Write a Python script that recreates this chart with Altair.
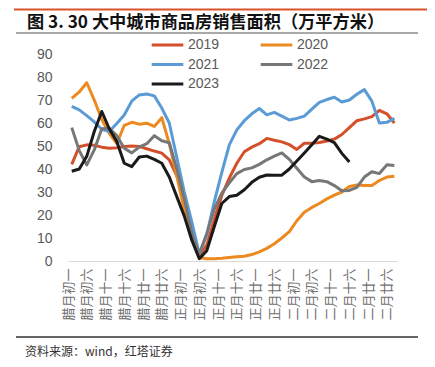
import altair as alt
import pandas as pd

# ---- data ----
days = list(range(1, 89, 2))  # day index, every 2 days
series_names = ["2019", "2020", "2021", "2022", "2023"]

v2019 = [42, 49.7, 50.5, 50.3, 49.5, 49, 49.2, 49.8, 50, 49.8,
         48.8, 47.8, 46.9, 44, 37, 28, 15, 2, 7, 18,
         28.5, 36, 42.5, 47.5, 49.5, 51, 53.3, 52.5, 51.8, 50.6,
         48.5, 51.2, 51.2, 51.5, 52.2, 53, 55, 58, 61, 61.8,
         62.8, 65.5, 64, 60]
v2020 = [70.7, 73.5, 77.5, 70, 61.5, 55.5, 51, 59, 60.3, 59.5,
         59.9, 58.5, 62.3, 51, 37, 22, 10, 1.5, 1, 1,
         1.2, 1.5, 1.8, 2.1, 2.8, 4, 5.5, 7.5, 10, 12.8,
         17.5, 21.2, 23.3, 25, 27, 28.6, 30, 32.4, 33, 32.8,
         32.8, 35, 36.5, 36.8]
v2021 = [67.2, 65.7, 63.2, 60.5, 57.3, 56.3, 59.8, 63.5, 69.5, 72.2,
         72.6, 71.8, 66.5, 60, 45, 30, 17, 3, 11.5, 25.8,
         38.5, 50.5, 57, 61, 64, 66.3, 63.5, 64.6, 63, 61.3,
         62, 63, 66, 69, 70.2, 71.2, 69.1, 70, 72.5, 74.5,
         69.5, 60, 60.3, 62]
v2022 = [58, 48, 41.8, 48.3, 57.5, 57.7, 54.5, 49, 47, 49.5,
         51, 54.5, 52.3, 51.4, 40, 27, 12, 3, 12, 22.5,
         29.5, 34, 38, 39.8, 40.5, 42, 44, 45.6, 47, 44.2,
         40.3, 36.5, 34.5, 35, 34.5, 32.8, 30.5, 30.7, 32, 36.5,
         38.8, 38, 41.8, 41.5]
v2023 = [39, 40, 45.5, 56.3, 65, 57.5, 52, 42.5, 41, 45.2,
         45.6, 44.2, 42.5, 36.5, 28, 19.5, 9, 1, 4.5, 15,
         25, 28, 28.6, 31, 34.2, 36.4, 37.4, 37.3, 37.3, 40,
         43.5, 47, 50.5, 54.2, 53, 51.5, 46.8, 43]

x_labels = ["腊月初一", "腊月初六", "腊月十一", "腊月十六", "腊月廿一", "腊月廿六",
            "正月初一", "正月初六", "正月十一", "正月十六", "正月廿一", "正月廿六",
            "二月初一", "二月初六", "二月十一", "二月十六", "二月廿一", "二月廿六"]
y_ticks = [0, 10, 20, 30, 40, 50, 60, 70, 80, 90]

title_text = "图 3. 30 大中城市商品房销售面积（万平方米）"
source_text = "资料来源：wind，红塔证券"
colors = ["#D4502A", "#EC8A1F", "#5B9BD5", "#777777", "#1A1A1A"]

rows = []
for name, vals in zip(series_names, [v2019, v2020, v2021, v2022, v2023]):
    for d, v in zip(days, vals):
        rows.append({"day": d, "value": v, "year": name})
df = pd.DataFrame(rows)

label_js = "[" + ",".join("'" + s + "'" for s in x_labels) + "]"

lines = alt.Chart(df).mark_line(strokeWidth=3, strokeJoin="round").encode(
    x=alt.X("day:Q",
            scale=alt.Scale(domain=[0, 87.7], nice=False, zero=False),
            axis=alt.Axis(values=[i * 5 for i in range(len(x_labels))],
                          labelExpr=label_js + "[round(datum.value/5)]",
                          labelAngle=-90, title=None, grid=False, ticks=False,
                          tickSize=0, labelPadding=7, labelFlush=False,
                          labelOverlap=False, domainColor="#D9D9D9",
                          labelFont="Noto Sans CJK SC", labelFontSize=13,
                          labelColor="#707070")),
    y=alt.Y("value:Q",
            scale=alt.Scale(domain=[0, 90], nice=False),
            axis=alt.Axis(values=y_ticks, title=None, grid=False, ticks=False,
                          tickSize=0, domain=False, labelPadding=16,
                          labelFontSize=14, labelColor="#595959",
                          labelFont="Liberation Sans")),
    color=alt.Color("year:N",
                    scale=alt.Scale(domain=series_names, range=colors),
                    legend=alt.Legend(title=None, orient="none", legendX=82,
                                      legendY=-17, columns=2,
                                      direction="horizontal",
                                      symbolType="stroke", symbolSize=1000,
                                      symbolStrokeWidth=3, labelFontSize=14,
                                      labelColor="#595959",
                                      labelFont="Liberation Sans",
                                      columnPadding=39, rowPadding=3.5,
                                      clipHeight=16, labelOffset=3)),
)

one = pd.DataFrame({"k": [0]})
rule_top = alt.Chart(one).mark_rule(color="#D9532B", strokeWidth=2).encode(
    x=alt.value(-54), x2=alt.value(361), y=alt.value(-44.5))
rule_title = alt.Chart(one).mark_rule(color="#8C8C8C", strokeWidth=1.5).encode(
    x=alt.value(-52), x2=alt.value(350), y=alt.value(-21))
rule_bottom = alt.Chart(one).mark_rule(color="#333333", strokeWidth=1.3).encode(
    x=alt.value(-52), x2=alt.value(350), y=alt.value(283))
title = alt.Chart(one).mark_text(text=title_text, align="left", baseline="alphabetic",
                                 fontSize=17.2, fontWeight="bold",
                                 font="Noto Sans CJK SC", color="#111111").encode(
    x=alt.value(-41), y=alt.value(-26.5))
source = alt.Chart(one).mark_text(text=source_text, align="left", baseline="alphabetic",
                                  fontSize=12, font="Noto Sans CJK SC",
                                  color="#333333").encode(
    x=alt.value(-43), y=alt.value(302))

chart = alt.layer(lines, rule_top, rule_title, rule_bottom, title, source).properties(
    width=329, height=207,
    padding={"left": 60, "top": 46, "right": 30, "bottom": 97},
    autosize=alt.AutoSizeParams(type="none"),
).configure_view(strokeWidth=0)

chart.save("out.html", embed_options={"renderer": "svg", "actions": False})
